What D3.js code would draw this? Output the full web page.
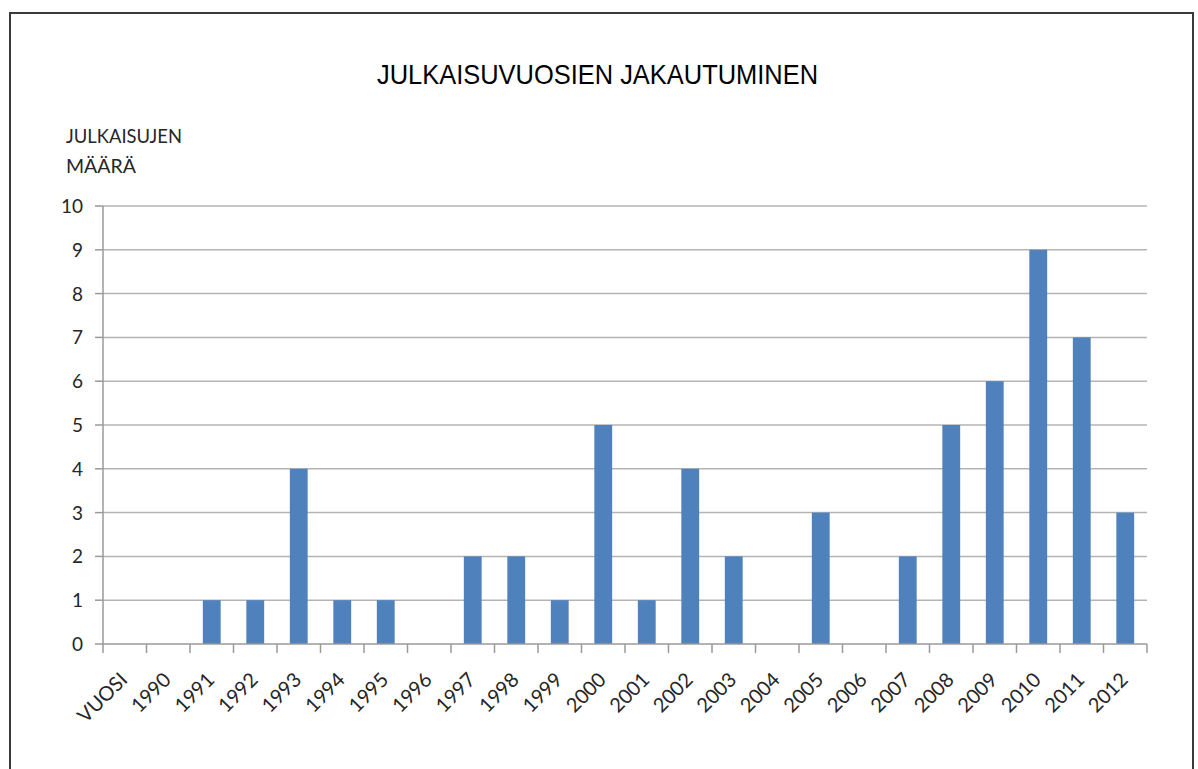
<!DOCTYPE html>
<html lang="fi">
<head>
    <meta charset="UTF-8">
    <title>Julkaisuvuosien jakautuminen</title>
    <script src="https://cdn.jsdelivr.net/npm/d3@7"></script>
    <style>
        body { margin: 0; background: #fff; }
    </style>
</head>
<body>
    <script>
        // data
        var years = ["VUOSI", "1990", "1991", "1992", "1993", "1994", "1995", "1996", "1997", "1998", "1999",
                     "2000", "2001", "2002", "2003", "2004", "2005", "2006", "2007", "2008", "2009", "2010", "2011", "2012"];
        var counts = [0, 0, 1, 1, 4, 1, 1, 0, 2, 2, 1, 5, 1, 4, 2, 0, 3, 0, 2, 5, 6, 9, 7, 3];
        var yTicks = [0, 1, 2, 3, 4, 5, 6, 7, 8, 9, 10];

        var w = 1198, h = 769;
        var plotLeft = 103, plotRight = 1147, plotTop = 206, plotBottom = 644;

        var svg = d3.select("body").append("svg")
            .attr("width", w)
            .attr("height", h);

        // frame
        svg.append("rect")
            .attr("x", 10).attr("y", 13)
            .attr("width", 1183).attr("height", 800)
            .attr("fill", "none")
            .attr("stroke", "#3a3a3a")
            .attr("stroke-width", 2);

        var x = d3.scaleBand().domain(years).range([plotLeft, plotRight]).paddingInner(0.59).paddingOuter(0.295);
        var xb = d3.scaleBand().domain(years).range([plotLeft, plotRight]);
        var y = d3.scaleLinear().domain([0, 10]).range([plotBottom, plotTop]);

        // gridlines
        svg.append("g").selectAll("line")
            .data(yTicks.filter(function(d){ return d > 0; }))
            .enter().append("line")
            .attr("x1", plotLeft).attr("x2", plotRight)
            .attr("y1", function(d){ return y(d); })
            .attr("y2", function(d){ return y(d); })
            .attr("stroke", "#b4b4b4")
            .attr("stroke-width", 1.5);

        // bars
        svg.append("g").selectAll("rect")
            .data(counts)
            .enter().append("rect")
            .attr("x", function(d, i){ return x(years[i]); })
            .attr("width", x.bandwidth())
            .attr("y", function(d){ return y(d); })
            .attr("height", function(d){ return plotBottom - y(d); })
            .attr("fill", "#4f81bd");

        // y axis
        var yAxis = svg.append("g");
        yAxis.append("line")
            .attr("x1", plotLeft).attr("x2", plotLeft)
            .attr("y1", plotTop).attr("y2", plotBottom)
            .attr("stroke", "#9a9a9a").attr("stroke-width", 1.5);
        yAxis.selectAll("line.tick")
            .data(yTicks)
            .enter().append("line")
            .attr("class", "tick")
            .attr("x1", plotLeft - 8).attr("x2", plotLeft)
            .attr("y1", function(d){ return y(d); })
            .attr("y2", function(d){ return y(d); })
            .attr("stroke", "#9a9a9a").attr("stroke-width", 1.5);
        yAxis.selectAll("text")
            .data(yTicks)
            .enter().append("text")
            .text(function(d){ return d; })
            .attr("x", 83)
            .attr("y", function(d){ return y(d) + 7; })
            .attr("text-anchor", "end")
            .attr("font-family", "Lato, sans-serif")
            .attr("font-size", "19px")
            .attr("fill", "#262626");

        // x axis
        var xAxis = svg.append("g");
        xAxis.append("line")
            .attr("x1", plotLeft).attr("x2", plotRight)
            .attr("y1", plotBottom).attr("y2", plotBottom)
            .attr("stroke", "#9a9a9a").attr("stroke-width", 1.5);
        var bounds = years.map(function(d){ return xb(d); }).concat([plotRight]);
        xAxis.selectAll("line.tick")
            .data(bounds)
            .enter().append("line")
            .attr("class", "tick")
            .attr("x1", function(d){ return d; })
            .attr("x2", function(d){ return d; })
            .attr("y1", plotBottom).attr("y2", plotBottom + 9)
            .attr("stroke", "#9a9a9a").attr("stroke-width", 1.5);
        xAxis.selectAll("text")
            .data(years)
            .enter().append("text")
            .text(function(d){ return d; })
            .attr("transform", function(d){
                return "translate(" + (xb(d) + xb.bandwidth() / 2 + 4) + "," + (plotBottom + 37) + ") rotate(-45)";
            })
            .attr("text-anchor", "end")
            .attr("font-family", "Lato, sans-serif")
            .attr("font-size", "20px")
            .attr("fill", "#262626");

        // title
        svg.append("text")
            .text("JULKAISUVUOSIEN JAKAUTUMINEN")
            .attr("x", 597.5)
            .attr("y", 84)
            .attr("text-anchor", "middle")
            .attr("font-family", "'Liberation Sans', Arial, sans-serif")
            .attr("font-size", "28px")
            .attr("textLength", 441)
            .attr("lengthAdjust", "spacingAndGlyphs")
            .attr("fill", "#000");

        // y label
        var yLabel = ["JULKAISUJEN", "MÄÄRÄ"];
        var yLabelWidths = [116, 70];
        svg.append("text")
            .attr("font-family", "Lato, sans-serif")
            .attr("font-size", "20px")
            .attr("fill", "#262626")
            .selectAll("tspan")
            .data(yLabel)
            .enter().append("tspan")
            .attr("x", 66)
            .attr("y", function(d, i){ return 143 + i * 29.5; })
            .attr("textLength", function(d, i){ return yLabelWidths[i]; })
            .attr("lengthAdjust", "spacingAndGlyphs")
            .text(function(d){ return d; });
    </script>
</body>
</html>
